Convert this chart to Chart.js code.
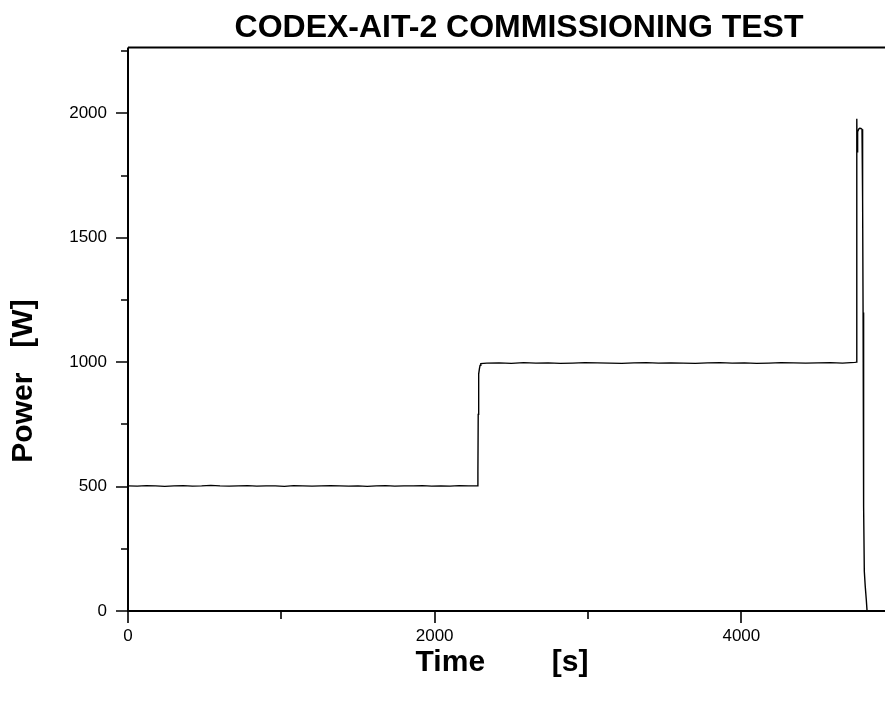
<!DOCTYPE html>
<html>
<head>
<meta charset="utf-8">
<title>CODEX-AIT-2 Commissioning Test</title>
<script src="https://cdn.jsdelivr.net/npm/chart.js@4.4.1/dist/chart.umd.min.js"></script>
<style>
  html, body { margin: 0; padding: 0; background: #fff; overflow: hidden; }
  #wrap { width: 910px; height: 711px; }
</style>
</head>
<body>
<div id="wrap"><canvas id="grafPotencia" width="910" height="711"></canvas></div>
<script>
// dados (tempo em s, potencia em W)
const chartTitle = 'CODEX-AIT-2 COMMISSIONING TEST';
const xTitle = 'Time        [s]';
const yTitle = 'Power   [W]';

const timeSec = [
  0, 60, 120, 180, 240, 300, 360, 420, 480, 540,
  600, 660, 720, 780, 840, 900, 960, 1020, 1080, 1140,
  1200, 1260, 1320, 1380, 1440, 1500, 1560, 1620, 1680, 1740,
  1800, 1860, 1920, 1980, 2040, 2100, 2160, 2220, 2280,
  2282, 2284, 2286, 2288, 2292, 2296, 2301,
  2340, 2420, 2500, 2580, 2660, 2740, 2820, 2900, 2980, 3060,
  3140, 3220, 3300, 3380, 3460, 3540, 3620, 3700, 3780, 3860,
  3940, 4020, 4100, 4180, 4260, 4340, 4420, 4500, 4580, 4660,
  4740,
  4751, 4753, 4755, 4757, 4760, 4766, 4772, 4780, 4787, 4790,
  4792, 4794, 4796, 4799, 4802, 4808, 4815, 4820
];

const powerW = [
  503, 502, 504, 503, 501, 503, 504, 502, 503, 505,
  503, 502, 503, 504, 502, 503, 503, 501, 504, 503,
  502, 503, 504, 503, 502, 503, 501, 503, 504, 502,
  503, 503, 504, 502, 503, 502, 504, 503, 503,
  560, 790, 921, 952, 974, 987, 994,
  996, 997, 995, 998, 996, 997, 995, 996, 998, 997,
  996, 995, 997, 998, 996, 997, 996, 995, 997, 998,
  996, 997, 995, 996, 998, 997, 996, 997, 998, 996,
  999,
  1000, 1978, 1845, 1905, 1926, 1937, 1940, 1939, 1936, 1925,
  1650, 1200, 800, 420, 160, 100, 45, 0
];

// ticks do eixo
const xMajorTicks = [0, 2000, 4000];
const xMinorTicks = [1000, 3000, 5000];
const yMajorTicks = [0, 500, 1000, 1500, 2000];
const yMinorTicks = [250, 750, 1250, 1750, 2250];

const fonte = 'Liberation Sans, Arial, sans-serif';

// moldura, ticks e titulos dos eixos
const molduraPlugin = {
  id: 'moldura',
  afterDraw(chart) {
    const ctx = chart.ctx;
    const a = chart.chartArea;
    const x = chart.scales.x;
    const y = chart.scales.y;
    ctx.save();
    ctx.strokeStyle = '#000';
    ctx.lineWidth = 2;
    ctx.beginPath();
    ctx.moveTo(a.left, a.top);
    ctx.lineTo(a.right, a.top);
    ctx.moveTo(a.left, a.top);
    ctx.lineTo(a.left, a.bottom);
    ctx.lineTo(a.right, a.bottom);
    ctx.stroke();

    ctx.lineWidth = 1.6;
    ctx.beginPath();
    xMajorTicks.forEach(v => {
      const px = Math.round(x.getPixelForValue(v));
      ctx.moveTo(px, a.bottom); ctx.lineTo(px, a.bottom + 12);
    });
    xMinorTicks.forEach(v => {
      const px = Math.round(x.getPixelForValue(v));
      ctx.moveTo(px, a.bottom); ctx.lineTo(px, a.bottom + 8);
    });
    yMajorTicks.forEach(v => {
      const py = Math.round(y.getPixelForValue(v));
      ctx.moveTo(a.left, py); ctx.lineTo(a.left - 12, py);
    });
    yMinorTicks.forEach(v => {
      const py = Math.round(y.getPixelForValue(v));
      ctx.moveTo(a.left, py); ctx.lineTo(a.left - 7, py);
    });
    ctx.stroke();

    // titulos dos eixos
    ctx.fillStyle = '#000';
    ctx.font = 'bold 30px ' + fonte;
    ctx.textAlign = 'center';
    ctx.textBaseline = 'middle';
    ctx.fillText(xTitle, a.left + 374, a.bottom + 52);
    ctx.translate(a.left - 104, a.bottom - 230);
    ctx.rotate(-Math.PI / 2);
    ctx.fillText(yTitle, 0, 0);
    ctx.restore();
  }
};

const ctp = document.getElementById('grafPotencia').getContext('2d');

const graficoPotencia = new Chart(ctp, {
  type: 'line',
  data: {
    datasets: [{
      label: 'Power',
      data: timeSec.map((t, i) => ({ x: t, y: powerW[i] })),
      borderColor: '#000',
      borderWidth: 1.4,
      pointRadius: 0,
      tension: 0,
      fill: false
    }]
  },
  options: {
    responsive: false,
    animation: false,
    devicePixelRatio: 1,
    layout: { padding: 0 },
    plugins: {
      legend: { display: false },
      tooltip: { enabled: false },
      title: {
        display: true,
        text: chartTitle,
        fullSize: false,
        color: '#000',
        font: { family: fonte, size: 32, weight: 'bold', lineHeight: 1.2 },
        padding: { top: 9, bottom: 0 }
      }
    },
    scales: {
      x: {
        type: 'linear',
        min: 0,
        max: 5100,
        afterFit: s => { s.height = 100; },
        afterBuildTicks: s => { s.ticks = xMajorTicks.map(v => ({ value: v })); },
        grid: { display: false, drawTicks: false },
        border: { display: false },
        ticks: {
          autoSkip: false,
          maxRotation: 0,
          padding: 15,
          color: '#000',
          font: { family: fonte, size: 17 },
          callback: v => String(v)
        }
      },
      y: {
        min: 0,
        max: 2265,
        afterFit: s => { s.width = 128; },
        afterBuildTicks: s => { s.ticks = yMajorTicks.map(v => ({ value: v })); },
        grid: { display: false, drawTicks: false },
        border: { display: false },
        ticks: {
          autoSkip: false,
          padding: 21,
          color: '#000',
          font: { family: fonte, size: 17 },
          callback: v => String(v)
        }
      }
    }
  },
  plugins: [molduraPlugin]
});
</script>
</body>
</html>
